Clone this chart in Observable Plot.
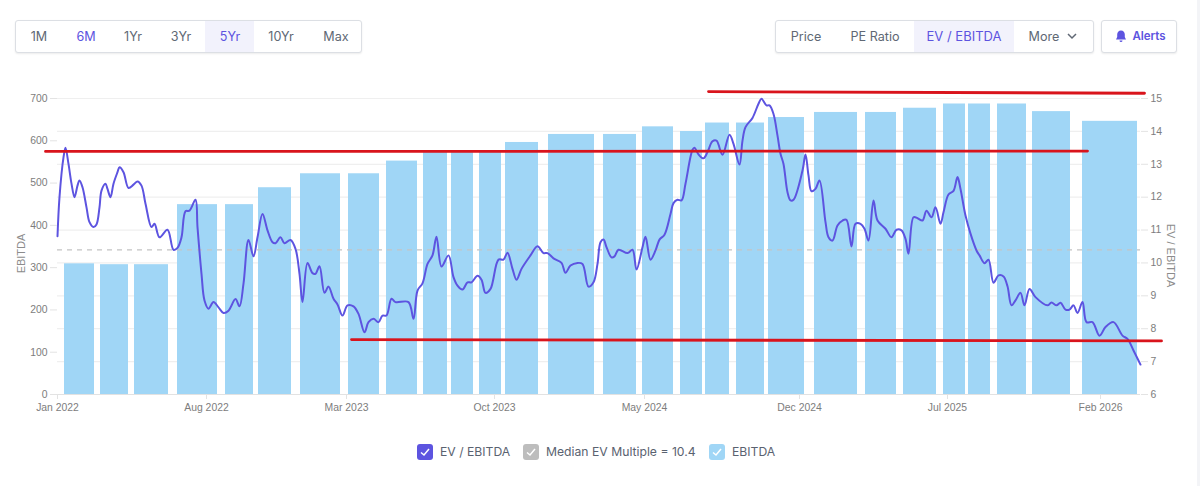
<!DOCTYPE html>
<html><head><meta charset="utf-8">
<script src="https://cdn.jsdelivr.net/npm/d3@7"></script>
<script src="https://cdn.jsdelivr.net/npm/@observablehq/plot@0.6"></script>
<style>
html,body{margin:0;padding:0;background:#f3f4f7;width:1200px;height:486px;overflow:hidden;font-family:Inter,sans-serif}
#card{position:absolute;left:-20px;top:-14px;width:1217px;height:520px;background:#fff;border-radius:14px}
.group{position:absolute;top:20px;height:31px;border:1px solid #dcdfe4;border-radius:3px;background:#fff;box-shadow:0 1px 2px rgba(0,0,0,.08)}
.b{position:absolute;top:0;height:31px;line-height:31px;font-size:12.6px;color:#606874;text-align:center;transform:translateX(-50%);white-space:nowrap}
.hl{position:absolute;top:0;height:31px;background:#f2f2fc}
.on{color:#5d54e0}
#chart{position:absolute;left:0;top:70px}
.lg{position:absolute;top:444px;width:16px;height:16px;border-radius:3px}
.lg svg{display:block}
.lt{position:absolute;top:444px;line-height:16px;font-size:12.2px;color:#5a6270;white-space:nowrap}
</style></head>
<body>
<div id="card"></div>
<div class="group" style="left:15px;width:345px">
  <div class="hl" style="left:189px;width:49px"></div>
  <div class="b" style="left:23px">1M</div><div class="b on" style="left:70px">6M</div>
  <div class="b" style="left:117px">1Yr</div><div class="b" style="left:165px">3Yr</div>
  <div class="b on" style="left:214px">5Yr</div><div class="b" style="left:265px">10Yr</div><div class="b" style="left:320px">Max</div>
</div>
<div class="group" style="left:775px;width:317px">
  <div class="hl" style="left:138px;width:100px"></div>
  <div class="b" style="left:30px">Price</div><div class="b" style="left:99px">PE Ratio</div>
  <div class="b on" style="left:188px;font-size:13px">EV / EBITDA</div><div class="b" style="left:268px">More</div>
  <svg style="position:absolute;left:290px;top:11px" width="12" height="9" viewBox="0 0 12 9"><path d="M2 2l4 4 4-4" fill="none" stroke="#606874" stroke-width="1.5"/></svg>
</div>
<div class="group" style="left:1101px;width:74px">
  <svg style="position:absolute;left:13px;top:9px" width="12" height="13" viewBox="0 0 12 13"><path d="M6 0.5c-2.4 0-3.8 1.8-3.8 4v2.6L1 9.6h10L9.8 7.100V4.500C9.800 2.300 8.400 0.500 6 0.500zM4.500 10.600a1.500 1.500 0 0 0 3 0z" fill="#5d54e0"/></svg>
  <div class="b on" style="left:47px;font-size:11.5px;font-weight:600">Alerts</div>
</div>
<div id="chart"></div>
<div class="lg" style="left:417px;background:#5d54e0"><svg width="16" height="16"><path d="M4 8.500l3 2.500 5-6" fill="none" stroke="#fff" stroke-width="1.500"/></svg></div>
<div class="lt" style="left:440px">EV / EBITDA</div>
<div class="lg" style="left:523px;background:#bdbdbd"><svg width="16" height="16"><path d="M4 8.500l3 2.500 5-6" fill="none" stroke="#fff" stroke-width="1.500"/></svg></div>
<div class="lt" style="left:546px">Median EV Multiple = 10.4</div>
<div class="lg" style="left:709px;background:#a0d6f6"><svg width="16" height="16"><path d="M4 8.500l3 2.500 5-6" fill="none" stroke="#fff" stroke-width="1.500"/></svg></div>
<div class="lt" style="left:732px">EBITDA</div>
<script>
// x is the trading-session index (the source chart uses a category axis)
const tickSessions = [0,149,289,437,587,742,890,1043];
const tickLabels = ["Jan 2022","Aug 2022","Mar 2023","Oct 2023","May 2024","Dec 2024","Jul 2025","Feb 2026"];

const barStart = [7,43,77,120,168,201,243,291,329,366,394,422,448,491,546,585,623,648,679,711,757,808,846,886,911,940,975,1025];
const barEnd   = [37,71,111,160,196,234,283,322,360,390,416,444,481,537,579,616,645,672,707,747,800,839,879,908,933,969,1013,1080];
const ebitda   = [309,307,307,449,449,489,522,522,552,577,577,577,596,615,615,633,622,642,642,655,667,667,677,687,687,687,669,646];

const session = [0,2,6,8,11,14,17,20,22,25,29,32,36,39,42,44,48,50,53,56,60,62,66,71,76,80,84,88,94,97,102,110,116,120,124,128,132,138,140,144,147,151,156,161,166,171,178,182,186,191,196,200,205,210,215,218,223,227,233,238,242,245,250,255,258,262,267,271,276,280,285,290,296,301,307,311,316,321,325,329,334,338,351,356,360,365,370,375,379,384,391,396,400,405,410,414,420,424,428,433,441,446,450,455,459,464,473,480,486,490,496,504,508,513,520,525,531,536,540,543,546,549,554,557,561,570,575,579,585,588,593,598,602,607,613,616,620,624,628,635,637,641,646,650,655,659,665,672,676,682,685,688,695,701,704,709,712,716,720,723,726,730,733,736,745,748,751,754,758,762,768,771,775,780,785,789,794,798,803,807,811,816,820,828,834,839,844,848,851,856,860,865,869,874,878,883,886,891,896,900,903,908,913,919,922,927,931,936,941,946,950,954,958,963,967,972,978,990,994,999,1003,1008,1012,1016,1020,1025,1029,1035,1042,1048,1056,1065,1070,1076,1083];
const evEbitda = [10.81,12.00,13.21,13.50,13.01,12.41,12.00,12.35,12.51,12.30,11.69,11.24,11.09,11.17,11.69,12.20,12.41,12.25,12.00,12.41,12.76,12.91,12.76,12.28,12.38,12.48,12.35,11.80,11.09,11.19,10.78,11.01,10.40,10.46,10.78,11.57,11.59,11.92,11.09,9.67,8.86,8.61,8.81,8.65,8.48,8.55,8.90,8.68,9.37,10.70,10.20,10.78,11.49,10.99,10.63,10.60,10.78,10.60,10.70,10.43,9.67,8.81,10.00,9.69,9.67,9.90,9.09,9.28,8.91,8.74,8.40,8.71,8.68,8.45,7.89,8.20,8.30,8.20,8.40,8.40,8.91,8.81,8.81,8.30,9.16,9.38,9.97,10.23,10.80,9.89,10.23,9.57,9.31,9.19,9.41,9.41,9.61,9.49,9.09,9.21,10.10,10.10,10.31,9.82,9.49,9.82,10.23,10.51,10.30,10.30,10.14,10.00,9.70,9.92,10.00,9.97,9.28,9.41,9.97,10.63,10.71,10.48,10.17,10.20,10.40,10.30,10.40,9.80,10.48,10.80,10.10,10.38,10.71,10.86,11.49,11.82,11.92,11.90,12.41,13.44,13.50,13.30,13.18,13.37,13.70,13.72,13.29,13.90,13.62,12.99,13.72,14.13,14.41,14.84,14.99,14.79,14.79,14.53,13.87,13.32,13.01,12.15,11.90,11.92,12.81,13.30,12.66,12.18,12.25,12.51,11.24,10.78,10.68,11.14,11.29,11.31,10.50,11.19,11.19,11.04,10.68,11.90,11.29,11.04,10.78,11.01,10.99,10.73,10.28,11.39,11.36,11.29,11.59,11.39,11.69,11.19,11.54,12.08,12.19,12.61,12.25,11.44,10.89,10.38,10.23,9.99,10.10,9.40,9.62,9.59,9.29,8.71,8.86,9.09,8.71,9.21,8.96,8.71,8.80,8.71,8.79,8.58,8.58,8.71,8.48,8.81,8.20,8.20,7.79,8.05,8.20,7.79,7.69,7.34,6.91];

const medianMultiple = 10.4;
const multipleTicks = [6,7,8,9,10,11,12,13,14,15];
const ebitdaTicks = [0,100,200,300,400,500,600,700];

// Hand-drawn red annotation lines: [session, multiple] at each end
const redLines = [
  {x: [-12,1030], y: [13.39,13.40]},
  {x: [651,1087], y: [15.21,15.16]},
  {x: [294,1104], y: [7.67,7.63]}
];

// Left axis (0-700) shares the frame with the right axis (6-15)
const e2m = e => 6 + e * 9 / 700;
const m2e = m => (m - 6) * 700 / 9;

const bars = barStart.map((s,i)=>({s, e:barEnd[i], y:e2m(ebitda[i])}));
const line = session.map((s,i)=>({s, v:evEbitda[i]}));
const ink = "#7d7d7d", tickInk = "#e3e3e3";

const chart = Plot.plot({
  width:1200, height:350,
  marginLeft:57, marginRight:60, marginTop:28, marginBottom:26,
  style:{fontFamily:"'Liberation Sans',Arial,sans-serif",fontSize:"10.4px",background:"transparent",overflow:"visible"},
  x:{type:"linear",domain:[0,1083]},
  y:{type:"linear",domain:[6,15]},
  marks:[
    Plot.ruleY(multipleTicks,{stroke:"#efefef",strokeWidth:1.2}),
    Plot.rectY(bars,{x1:"s",x2:"e",y1:6,y2:"y",fill:"#a0d6f6"}),
    Plot.ruleY([6],{stroke:"#e2e2e2"}),
    Plot.ruleY([medianMultiple],{stroke:"#c4c4c4",strokeDasharray:"5 5",strokeWidth:1.2}),
    Plot.line(line,{x:"s",y:"v",stroke:"#5d54e0",strokeWidth:2,curve:"catmull-rom"}),
    ...redLines.map(r=>Plot.line(r.x.map((x,i)=>({x,y:r.y[i]})),{x:"x",y:"y",stroke:"#d9141c",strokeWidth:2.8})),
    Plot.axisY({anchor:"left",ticks:ebitdaTicks.map(e2m),tickFormat:m=>String(Math.round(m2e(m))),label:null,tickSize:7,tickPadding:3,stroke:tickInk,fill:ink}),
    Plot.axisY({anchor:"right",ticks:multipleTicks,tickFormat:d=>String(d),label:null,tickSize:7,tickPadding:3,stroke:tickInk,fill:ink}),
    Plot.axisX({ticks:tickSessions,tickFormat:(d,i)=>tickLabels[tickSessions.indexOf(d)],label:null,tickSize:5,tickPadding:4,stroke:tickInk,fill:ink}),
    Plot.text(["EBITDA"],{frameAnchor:"left",textAnchor:"middle",rotate:-90,dx:-36,dy:7,fill:"#8c8c8c",fontSize:11}),
    Plot.text(["EV / EBITDA"],{frameAnchor:"right",textAnchor:"middle",rotate:90,dx:30,dy:9,fill:"#8c8c8c",fontSize:11})
  ]
});
document.getElementById("chart").appendChild(chart);
</script>
</body></html>
